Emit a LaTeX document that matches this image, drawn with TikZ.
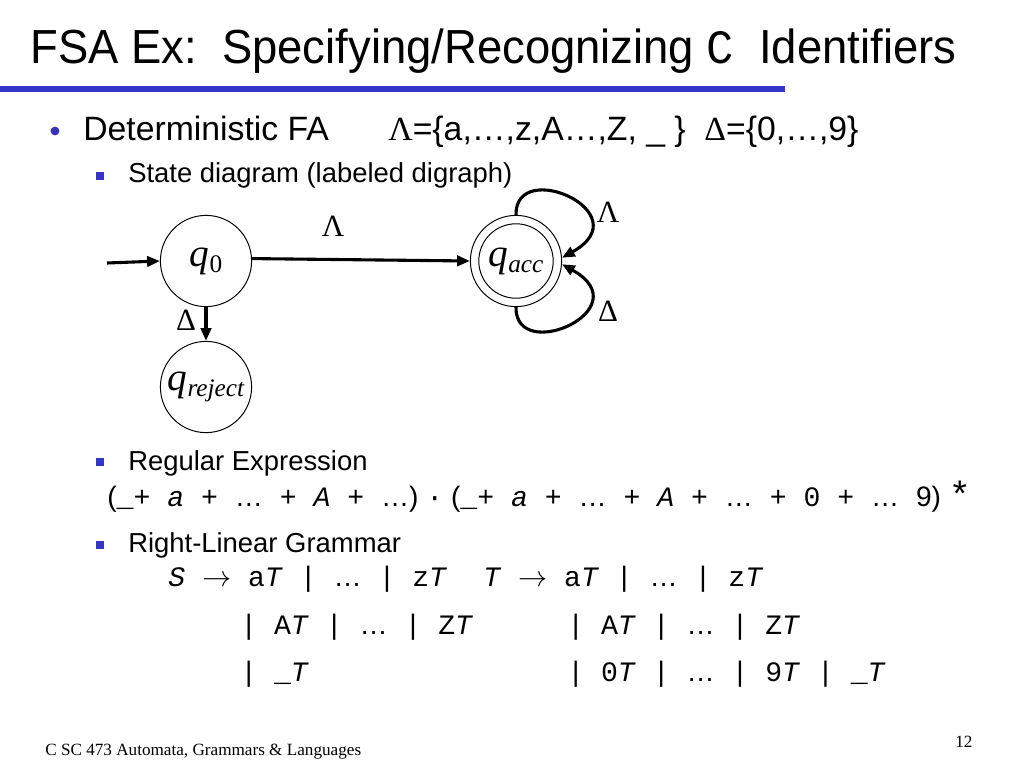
\documentclass[tikz,border=0pt]{standalone}
\usepackage{fontspec}
\setmainfont{Liberation Sans}
\newfontfamily\tms{Liberation Serif}
\newfontfamily\cour{Liberation Mono}
\usetikzlibrary{arrows.meta, positioning}
\definecolor{ink}    {HTML}{000000}
\definecolor{rulebl} {HTML}{3535C8}
\definecolor{dotbl}  {HTML}{3434B4}
% state name: q with subscript
\newcommand{\qst}[1]{{\tms\fontsize{28}{28}\selectfont\itshape q}%
  \raisebox{-4.5pt}{\tms\fontsize{18}{18}\selectfont #1}}
\newcommand{\dts}{{\rmfamily\ldots}}
\begin{document}
\begin{tikzpicture}[
    x=0.025cm, y=-0.025cm,
    >={Triangle[length=3.2mm, width=2.6mm]},
    %% --- semantic styles ---
    titletext/.style = {anchor=base west, inner sep=0,
                        font=\fontsize{34}{40}\selectfont},
    bodytext/.style  = {anchor=base west, inner sep=0,
                        font=\fontsize{24}{28}\selectfont},
    subtext/.style   = {anchor=base west, inner sep=0,
                        font=\fontsize{19.5}{24}\selectfont},
    monotext/.style  = {anchor=base west, inner sep=0,
                        font=\fontsize{20}{24}\selectfont},
    foottext/.style  = {anchor=base west, inner sep=0,
                        font=\tms\fontsize{12.2}{15}\selectfont},
    dotbullet/.style = {circle, fill=dotbl, inner sep=0, minimum size=2.2mm},
    sqbullet/.style  = {rectangle, fill=rulebl, inner sep=0, minimum size=1.9mm},
    statenode/.style = {circle, draw=ink, line width=0.7pt, inner sep=0,
                        minimum size=22.8mm},
    symlabel/.style  = {inner sep=0, font=\tms\fontsize{22}{22}\selectfont},
    edge/.style      = {->, draw=ink, line width=2.2pt}
]
\useasboundingbox (0,0) rectangle (1024,768);

%% =====================================================
%% Title and rule
%% =====================================================
\node[titletext] (title) at (30,64)
    {\scalebox{0.95}[1]{FSA Ex:\ \ Specifying/Recognizing {\cour C}\ \ Identifiers}};
\fill[rulebl] (0,86.5) rectangle (785,92);

%% =====================================================
%% Deterministic FA
%% =====================================================
\node[dotbullet] (b1) at (55,131) {};
\node[bodytext] (det) at (83,141) {Deterministic FA};
\node[bodytext] (alph) at (388,141)
    {{\tms Λ}=\{a,…,z,A…,Z, \_ \}\ \ {\tms Δ}=\{0,…,9\}};

\node[sqbullet] (b2) at (100,176) {};
\node[subtext] (sd) at (128,183) {State diagram (labeled digraph)};

%% =====================================================
%% State diagram
%% =====================================================
\node[statenode] (q0)  at (206,261) {\qst{0}};
\node[statenode] (acc) at (516,261) {\qst{\itshape acc}};
\node[statenode] (rej) at (206,387) {\qst{\itshape reject}};
\draw[ink, line width=0.7pt] (acc.center) circle[radius=9.3mm];
\coordinate (start) at (107,263);

\draw[edge] (start) -- (q0.west);
\draw[edge] (q0.3) -- (acc.west);
\draw[edge] (q0.south) -- (rej.north);
\draw[edge] (acc.north) .. controls +(-1,-58) and +(80,-45) .. (acc.4);
\draw[edge] (acc.south) .. controls +(-1,58) and +(80,45) .. (acc.-4);

\node[symlabel] (lab1) at (333,226) {Λ};
\node[symlabel] (lab2) at (186,320) {Δ};
\node[symlabel] (lab3) at (608,212) {Λ};
\node[symlabel] (lab4) at (608,311) {Δ};

%% =====================================================
%% Regular Expression
%% =====================================================
\node[sqbullet] (b3) at (100,462) {};
\node[subtext] (re) at (128,470) {Regular Expression};
\node[monotext] (rex) at (107,506)
    {({\cour \_+ \textit{a} + \dts{} + \textit{A} + \dts})
     {\cour ·} ({\cour \_+ \textit{a} + \dts{} + \textit{A} + \dts{} + 0 + \dts{} }9)
     {\cour\fontsize{26}{26}\selectfont\raisebox{-1pt}{*}}};

%% =====================================================
%% Right-Linear Grammar
%% =====================================================
\node[sqbullet] (b4) at (100,545) {};
\node[subtext] (rg) at (128,552) {Right-Linear Grammar};
\node[monotext] (g1) at (168,586)
    {{\cour \textit{S} $\rightarrow$ a\textit{T} | \dts{} | z\textit{T}}};
\node[monotext] (g2) at (483,586)
    {{\cour \textit{T} $\rightarrow$ a\textit{T} | \dts{} | z\textit{T}}};
\node[monotext] (g3) at (240,634)
    {{\cour | A\textit{T} | \dts{} | Z\textit{T}}};
\node[monotext] (g4) at (567,634)
    {{\cour | A\textit{T} | \dts{} | Z\textit{T}}};
\node[monotext] (g5) at (240,681)
    {{\cour | \_\textit{T}}};
\node[monotext] (g6) at (567,681)
    {{\cour | 0\textit{T} | \dts{} | 9\textit{T} | \_\textit{T}}};

%% =====================================================
%% Footer
%% =====================================================
\node[foottext] (foot) at (45,755) {C SC 473 Automata, Grammars \& Languages};
\node[foottext] (page) at (955,747) {12};

\end{tikzpicture}
\end{document}
